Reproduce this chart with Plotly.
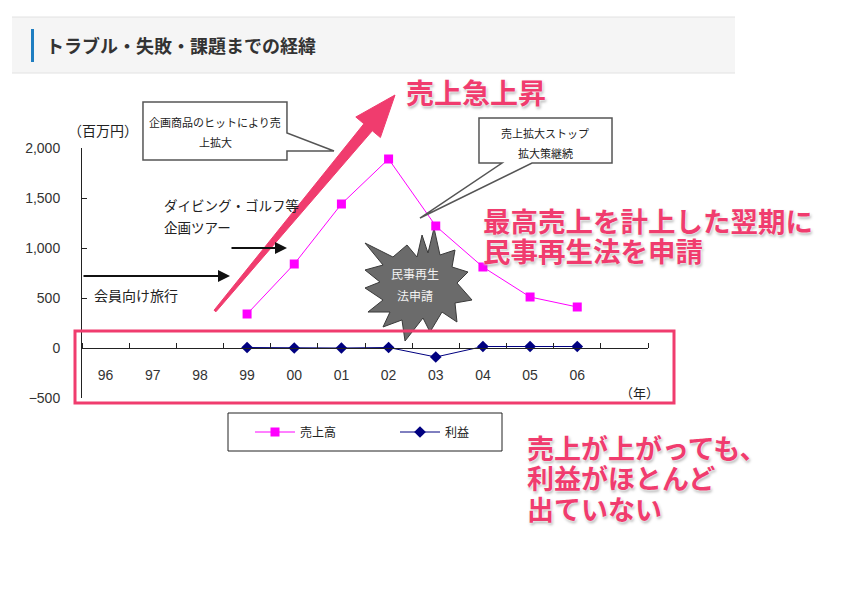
import numpy as np
import plotly.graph_objects as go

W, H = 850, 598
OFF = 8  # page body margin

# data (百万円)
years = ['96', '97', '98', '99', '00', '01', '02', '03', '04', '05', '06']
data_years = ['99', '00', '01', '02', '03', '04', '05', '06']
sales = [340, 840, 1440, 1890, 1220, 810, 510, 410]
profit = [5, 0, 0, 5, -90, 15, 15, 15]
y_ticks = [-500, 0, 500, 1000, 1500, 2000]

PINK = '#f03c6e'
JP = 'Noto Sans CJK JP'


def px(x):
    return (x - OFF) / W


def py(y):
    return 1 - (y - OFF) / H


def path(points, close=True):
    s = 'M' + ' L'.join(f'{px(x):.4f},{py(y):.4f}' for x, y in points)
    return s + (' Z' if close else '')


x_pos = [years.index(y) for y in data_years]

fig = go.Figure()
fig.add_trace(go.Scatter(x=x_pos, y=sales, name='売上高', mode='lines+markers',
                         line=dict(color='#ff00ff', width=1),
                         marker=dict(symbol='square', size=9, color='#ff00ff')))
fig.add_trace(go.Scatter(x=x_pos, y=profit, name='利益', mode='lines+markers',
                         line=dict(color='#000080', width=1),
                         marker=dict(symbol='diamond', size=9, color='#000080')))

shapes = []
# header band
shapes.append(dict(type='rect', xref='paper', yref='paper', x0=px(12), x1=px(735), y0=py(73), y1=py(17),
                   fillcolor='#f5f5f5', line=dict(width=0), layer='below'))
for yy in (17, 73):
    shapes.append(dict(type='line', xref='paper', yref='paper', x0=px(12), x1=px(735), y0=py(yy), y1=py(yy),
                       line=dict(color='#e2e2e2', width=1), layer='below'))
shapes.append(dict(type='rect', xref='paper', yref='paper', x0=px(31), x1=px(34), y0=py(62), y1=py(29),
                   fillcolor='#1f7ec1', line=dict(width=0), layer='below'))

# starburst
star = [(434, 228), (440, 255), (455, 250), (452, 267), (468, 272), (457, 283), (472, 300), (455, 303),
        (457, 322), (442, 312), (430, 332), (423, 318), (405, 341), (402, 320), (383, 327), (390, 312),
        (368, 312), (383, 300), (365, 288), (380, 282), (365, 270), (383, 265), (365, 243), (393, 257),
        (407, 245), (417, 257), (422, 235), (428, 253)]
shapes.append(dict(type='path', xref='paper', yref='paper', path=path(star),
                   fillcolor='#6b6b6b', line=dict(color='#3a3a3a', width=1), layer='below'))

# callout boxes
box1 = [(143, 102), (287, 102), (287, 133), (334, 151), (287, 151), (287, 160), (143, 160)]
box2 = [(479, 118), (612, 118), (612, 163), (532, 163), (420, 218), (502, 163), (479, 163)]
for b in (box1, box2):
    shapes.append(dict(type='path', xref='paper', yref='paper', path=path(b),
                       fillcolor='white', line=dict(color='#555555', width=1.5)))

# pink frame around profit line
shapes.append(dict(type='rect', xref='paper', yref='paper', x0=px(75), x1=px(674), y0=py(403), y1=py(331),
                   line=dict(color=PINK, width=3)))

# big pink arrow
tail = np.array([215.0, 311.0])
tip = np.array([395.0, 95.0])
d = (tip - tail) / np.linalg.norm(tip - tail)
n = np.array([-d[1], d[0]])
base = tip - 42 * d
arrow = [tail + 1.2 * n, base + 5.5 * n, base + 16 * n, tip, base - 16 * n, base - 5.5 * n, tail - 1.2 * n]
shapes.append(dict(type='path', xref='paper', yref='paper', path=path([tuple(p) for p in arrow]),
                   fillcolor=PINK, line=dict(color=PINK, width=1)))

# legend box
shapes.append(dict(type='rect', xref='paper', yref='paper', x0=px(228), x1=px(502), y0=py(451), y1=py(413),
                   line=dict(color='#222222', width=1)))

ann = []


def text(x, y, s, size, color='#222222', xanchor='left', bold=False, shadow=None):
    f = dict(family=JP, size=size, color=color)
    if bold:
        f['weight'] = 'bold'
    if shadow:
        f['shadow'] = shadow
    ann.append(dict(x=px(x), y=py(y), xref='paper', yref='paper', text=s, showarrow=False,
                    xanchor=xanchor, yanchor='middle', font=f))


text(44, 45, 'トラブル・失敗・課題までの経緯', 18, color='#333333', bold=True)
text(66, 130, '（百万円）', 14)
text(215, 122, '企画商品のヒットにより売', 11, xanchor='center')
text(215, 142, '上拡大', 11, xanchor='center')
text(545, 133, '売上拡大ストップ', 11, xanchor='center')
text(545, 153, '拡大策継続', 11, xanchor='center')
text(162, 205, 'ダイビング・ゴルフ等', 13.5)
text(162, 227, '企画ツアー', 13.5)
text(92, 295, '会員向け旅行', 14)
text(415, 273, '民事再生', 12, color='#f2f2f2', xanchor='center')
text(415, 295, '法申請', 12, color='#f2f2f2', xanchor='center')
text(618, 392, '（年）', 13)

glow = '0 0 2px white, 0 0 3px white, 1px 2px 3px rgba(0,0,0,0.35)'
text(404, 92, '売上急上昇', 28, color=PINK, bold=True, shadow=glow)
text(481, 220, '最高売上を計上した翌期に', 27.5, color=PINK, bold=True, shadow=glow)
text(481, 250, '民事再生法を申請', 27.5, color=PINK, bold=True, shadow=glow)
text(525, 447, '売上が上がっても、', 27, color=PINK, bold=True, shadow=glow)
text(525, 477, '利益がほとんど', 27, color=PINK, bold=True, shadow=glow)
text(525, 508, '出ていない', 27, color=PINK, bold=True, shadow=glow)

# black arrows
for hx, hy, tx in [(230, 276, 82), (287, 248, 230)]:
    ann.append(dict(x=px(hx), y=py(hy), xref='paper', yref='paper', text='', showarrow=True,
                    ax=tx - hx, ay=0, arrowhead=2, arrowsize=1.2, arrowwidth=2, arrowcolor='#111111'))

fig.update_layout(
    width=W, height=H, autosize=False,
    margin=dict(l=0, r=0, t=0, b=0, pad=0),
    paper_bgcolor='white', plot_bgcolor='rgba(0,0,0,0)',
    font=dict(family=JP, color='#222222'),
    shapes=shapes, annotations=ann,
    showlegend=True,
    legend=dict(orientation='h', x=px(250), y=py(432), xanchor='left', yanchor='middle',
                bgcolor='rgba(0,0,0,0)', font=dict(family=JP, size=12, color='#222222'),
                entrywidth=90, itemwidth=40),
    xaxis=dict(domain=[px(82), px(648)], range=[-0.5, 11.5], anchor='free', position=py(348),
               automargin=False,
               tickvals=list(range(len(years))), ticktext=years, ticks='', showgrid=False,
               zeroline=False, showline=True, linecolor='#222222', linewidth=1,
               tickfont=dict(family='Liberation Sans', size=14, color='#333333'), ticklabelstandoff=14,
               minor=dict(tick0=-0.5, dtick=1, ticks='inside', ticklen=5, tickcolor='#222222', showgrid=False)),
    yaxis=dict(domain=[py(398), py(148)], range=[-500, 2000], tickvals=y_ticks, tickformat=',',
               automargin=False,
               ticks='inside', ticklen=5, tickcolor='#222222', showgrid=False, zeroline=False,
               showline=True, linecolor='#222222', linewidth=1,
               tickfont=dict(family='Liberation Sans', size=14, color='#333333'), ticklabelstandoff=18),
)

fig.write_html('out.html')
